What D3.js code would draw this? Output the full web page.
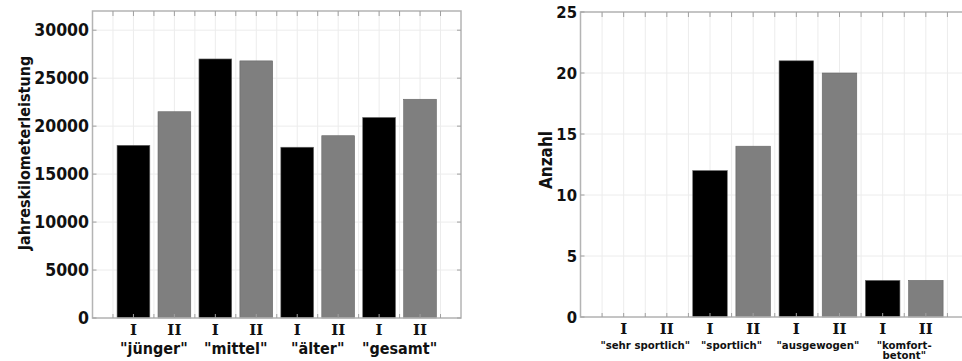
<!DOCTYPE html>
<html>
<head>
<meta charset="utf-8">
<script src="https://cdn.jsdelivr.net/npm/d3@7"></script>
<style>
  body { margin: 0; background: #fff; }
  svg { display: block; }
  .tick-label { font-family: "DejaVu Sans Condensed", "DejaVu Sans", sans-serif; font-weight: bold; fill: #111; }
  .roman { font-family: "DejaVu Serif", serif; font-weight: bold; fill: #111; }
  .cat { font-family: "DejaVu Sans Condensed", "DejaVu Sans", sans-serif; font-weight: bold; fill: #111; }
</style>
</head>
<body>
<svg id="chart" width="962" height="361"></svg>
<script>
// values
var groupLabels = ["I", "II"];

var mileageCategories = [['"jünger"'], ['"mittel"'], ['"älter"'], ['"gesamt"']];
var mileageI = [18000, 27000, 17800, 20900];
var mileageII = [21500, 26800, 19000, 22800];
var mileageTicks = [0, 5000, 10000, 15000, 20000, 25000, 30000];

var typeCategories = [['"sehr sportlich"'], ['"sportlich"'], ['"ausgewogen"'], ['"komfort-', 'betont"']];
var typeI = [0, 12, 21, 3];
var typeII = [0, 14, 20, 3];
var typeTicks = [0, 5, 10, 15, 20, 25];

var svg = d3.select("#chart");

function drawPanel(opt) {
  var g = svg.append("g");
  var x = d3.scaleLinear().domain([0, 9]).range([opt.left, opt.right]);
  var y = d3.scaleLinear().domain([0, opt.yMax]).range([opt.bottom, opt.top]);
  var halfSteps = d3.range(1, 18).map(function (k) { return k / 2; });

  // grid
  g.selectAll(".vgrid").data(halfSteps).enter().append("line")
    .attr("x1", function (d) { return x(d); }).attr("x2", function (d) { return x(d); })
    .attr("y1", opt.top).attr("y2", opt.bottom)
    .attr("stroke", "#ececec").attr("stroke-width", 1);
  g.selectAll(".hgrid").data(opt.ticks).enter().append("line")
    .attr("x1", opt.left).attr("x2", opt.right)
    .attr("y1", function (d) { return y(d); }).attr("y2", function (d) { return y(d); })
    .attr("stroke", "#ececec").attr("stroke-width", 1);

  // bars
  var bars = [];
  opt.cats.forEach(function (c, i) {
    bars.push({ pos: 2 * i + 1, v: opt.seriesI[i], fill: "#000" });
    bars.push({ pos: 2 * i + 2, v: opt.seriesII[i], fill: "#7f7f7f" });
  });
  g.selectAll(".bar").data(bars.filter(function (b) { return b.v > 0; })).enter().append("rect")
    .attr("x", function (d) { return x(d.pos - 0.4); })
    .attr("width", function (d) { return x(d.pos + 0.4) - x(d.pos - 0.4); })
    .attr("y", function (d) { return y(d.v); })
    .attr("height", function (d) { return y(0) - y(d.v); })
    .attr("fill", function (d) { return d.fill; })
    .attr("stroke", "#666").attr("stroke-width", 0.6);

  // frame
  g.append("rect")
    .attr("x", opt.left).attr("y", opt.top)
    .attr("width", opt.right - opt.left).attr("height", opt.bottom - opt.top)
    .attr("fill", "none").attr("stroke", "#b4b4b4").attr("stroke-width", 1.5);

  // inward ticks
  g.selectAll(".ttick").data(halfSteps).enter().append("line")
    .attr("x1", function (d) { return x(d); }).attr("x2", function (d) { return x(d); })
    .attr("y1", opt.top).attr("y2", opt.top + 5)
    .attr("stroke", "#a0a0a0");
  g.selectAll(".btick").data(halfSteps).enter().append("line")
    .attr("x1", function (d) { return x(d); }).attr("x2", function (d) { return x(d); })
    .attr("y1", opt.bottom).attr("y2", opt.bottom - 4)
    .attr("stroke", "#a0a0a0");
  g.selectAll(".ltick").data(opt.ticks).enter().append("line")
    .attr("x1", opt.left).attr("x2", opt.left + 4)
    .attr("y1", function (d) { return y(d); }).attr("y2", function (d) { return y(d); })
    .attr("stroke", "#a0a0a0");
  g.selectAll(".rtick").data(opt.ticks).enter().append("line")
    .attr("x1", opt.right).attr("x2", opt.right - 4)
    .attr("y1", function (d) { return y(d); }).attr("y2", function (d) { return y(d); })
    .attr("stroke", "#a0a0a0");

  // y tick labels
  g.selectAll(".ylab").data(opt.ticks).enter().append("text")
    .attr("class", "tick-label")
    .attr("x", opt.left - 3.5)
    .attr("y", function (d) { return y(d); })
    .attr("dy", "0.36em")
    .attr("text-anchor", "end")
    .style("font-size", opt.tickSize + "px")
    .text(function (d) { return d; });

  // roman group labels
  g.selectAll(".roman").data(bars).enter().append("text")
    .attr("class", "roman")
    .attr("x", function (d) { return x(d.pos); })
    .attr("y", opt.romanY)
    .attr("text-anchor", "middle")
    .style("font-size", "15px")
    .text(function (d, i) { return groupLabels[i % 2]; });

  // category labels
  opt.cats.forEach(function (lines, i) {
    var t = g.append("text")
      .attr("class", "cat")
      .attr("x", x(2 * i + 1.5))
      .attr("y", opt.catY)
      .attr("text-anchor", "middle")
      .style("font-size", opt.catSize + "px");
    lines.forEach(function (s, k) {
      t.append("tspan").attr("x", x(2 * i + 1.5)).attr("dy", k === 0 ? 0 : 10).text(s);
    });
  });

  // y title
  g.append("text")
    .attr("class", "cat")
    .attr("transform", "translate(" + opt.titleX + "," + opt.titleY + ") rotate(-90)")
    .attr("text-anchor", "middle")
    .style("font-size", opt.titleSize + "px")
    .text(opt.title);
}

drawPanel({
  left: 92.5, right: 461, top: 11, bottom: 318, yMax: 32000,
  ticks: mileageTicks, seriesI: mileageI, seriesII: mileageII, cats: mileageCategories,
  tickSize: 17.5, romanY: 334.5, catY: 354, catSize: 16,
  title: "Jahreskilometerleistung", titleX: 29.5, titleY: 153, titleSize: 16
});

drawPanel({
  left: 580.5, right: 969, top: 12, bottom: 317, yMax: 25,
  ticks: typeTicks, seriesI: typeI, seriesII: typeII, cats: typeCategories,
  tickSize: 16.5, romanY: 334, catY: 348.5, catSize: 11.3,
  title: "Anzahl", titleX: 552, titleY: 160, titleSize: 17
});
</script>
</body>
</html>
